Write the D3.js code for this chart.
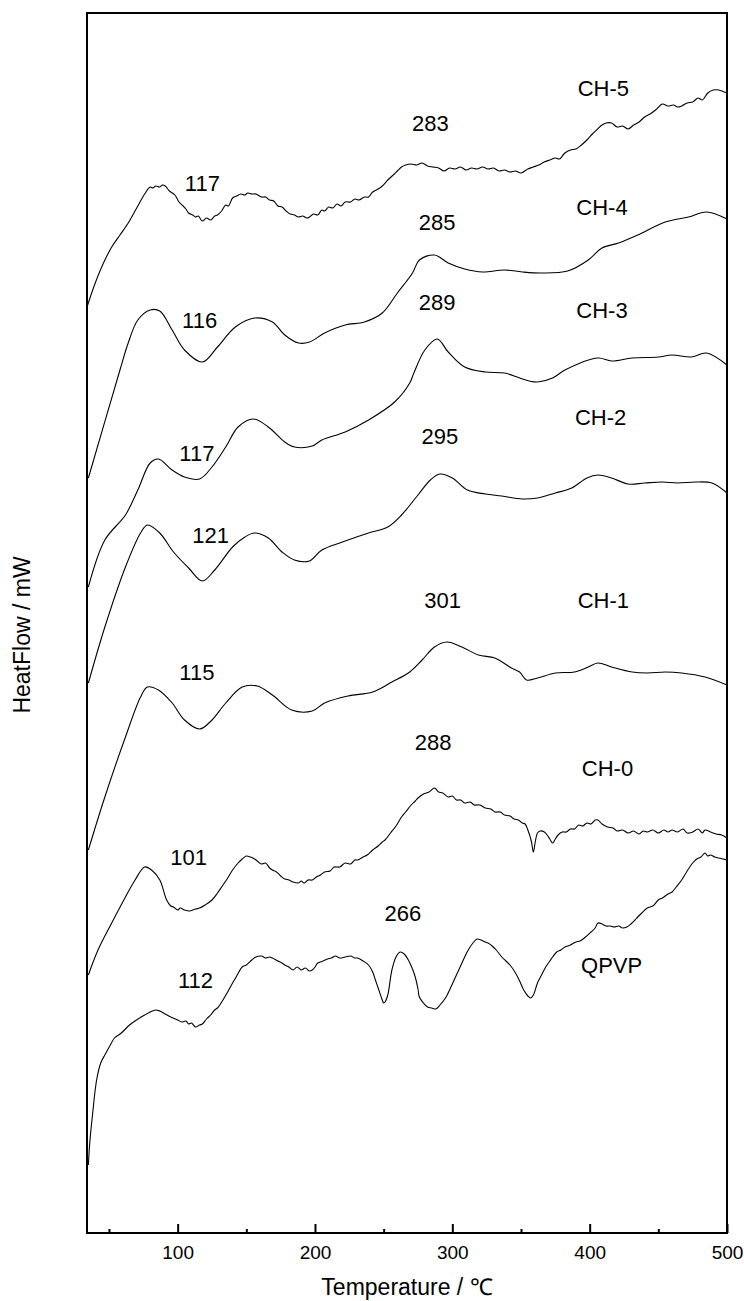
<!DOCTYPE html>
<html>
<head>
<meta charset="utf-8">
<script src="https://cdn.jsdelivr.net/npm/d3@7"></script>
<style>
    body { margin: 0; background: #fff; }
    #dsc-chart text { font-family: "Liberation Sans", Arial, sans-serif; fill: #000; }
</style>
</head>
<body>
<div id="dsc-chart"></div>
<script>
// DSC traces: [temperature in deg C, heat flow in arbitrary units (curves are stacked)]
var ch5 = [[34,926],[40,950],[46,970],[52,986],[58,998],[64,1010],[71,1027],[76,1039],[80,1046],[82,1045],
    [84,1047],[87,1046],[89,1048],[91,1047],[94,1042],[98,1038],[101,1031],[104,1027],[106,1024],[108,1020],
    [111,1018],[113,1016],[115,1017],[118,1012],[121,1015],[124,1013],[127,1017],[129,1018],[132,1022],
    [135,1028],[137,1027],[140,1035],[143,1037],[146,1039],[149,1038],[151,1040],[154,1039],[157,1039],
    [161,1036],[164,1036],[167,1033],[170,1032],[173,1027],[176,1026],[179,1022],[182,1019],[185,1018],
    [188,1016],[191,1017],[194,1015],[196,1016],[199,1019],[202,1018],[205,1023],[207,1022],[210,1026],
    [213,1025],[216,1029],[219,1027],[222,1031],[226,1031],[229,1034],[232,1033],[236,1036],[239,1036],
    [242,1041],[246,1044],[249,1047],[253,1053],[257,1058],[260,1062],[263,1066],[266,1068],[270,1069],
    [274,1068],[278,1070],[282,1067],[286,1066],[290,1065],[294,1062],[298,1065],[302,1064],[306,1066],
    [310,1063],[314,1065],[318,1064],[322,1066],[326,1064],[330,1065],[334,1062],[338,1063],[342,1061],
    [346,1062],[350,1060],[355,1064],[359,1066],[363,1068],[367,1071],[371,1073],[375,1075],[378,1074],
    [382,1080],[386,1083],[390,1084],[394,1088],[398,1093],[402,1099],[405,1103],[409,1108],[412,1110],
    [416,1110],[420,1106],[424,1107],[428,1104],[432,1108],[436,1111],[440,1116],[444,1119],[448,1123],
    [453,1129],[457,1127],[461,1128],[464,1126],[467,1127],[471,1130],[475,1131],[479,1135],[482,1133],
    [486,1140],[490,1143],[494,1143],[498,1141],[500,1140]];
var ch4 = [[35,755],[58,863],[64,890],[71,913],[80,923],[87,922],[96,903],[105,883],[118,871],[129,886],
    [142,906],[156,915],[169,911],[178,898],[188,890],[196,891],[207,900],[222,908],[236,911],[249,920],
    [260,940],[271,960],[276,973],[287,978],[297,970],[309,964],[322,961],[338,963],[351,961],[365,960],
    [384,962],[399,973],[409,985],[421,990],[435,998],[455,1011],[472,1016],[485,1021],[500,1014]];
var ch3 = [[35,646],[47,693],[62,718],[71,743],[80,770],[86,774],[96,763],[105,756],[116,754],[125,766],
    [135,786],[144,806],[155,814],[166,806],[178,791],[185,786],[198,787],[205,793],[222,801],[239,813],
    [258,831],[269,850],[272,860],[280,883],[289,894],[297,881],[309,866],[324,861],[338,860],[349,855],
    [356,852],[362,851],[373,855],[382,863],[406,875],[416,872],[431,875],[450,876],[460,878],[474,876],
    [485,880],[500,868]];
var ch2 = [[35,550],[47,606],[62,666],[73,700],[78,708],[87,700],[97,681],[108,665],[118,652],[127,663],
    [140,686],[149,696],[156,700],[166,695],[176,681],[185,673],[196,672],[205,683],[220,691],[239,700],
    [253,706],[263,718],[275,738],[284,753],[291,759],[300,755],[311,743],[324,739],[336,737],[351,734],
    [362,735],[375,740],[387,745],[398,755],[406,758],[416,755],[428,749],[440,750],[453,751],[464,750],
    [477,751],[489,750],[500,740]];
var ch1 = [[35,383],[47,436],[62,496],[73,536],[78,546],[86,543],[96,530],[105,513],[116,504],[125,513],
    [135,530],[147,546],[158,547],[169,538],[183,523],[198,522],[207,530],[224,537],[242,541],[256,551],
    [269,561],[278,573],[287,586],[296,591],[307,586],[319,578],[331,575],[343,565],[349,561],[354,553],
    [362,555],[375,560],[389,561],[399,566],[406,570],[416,566],[431,561],[442,560],[455,561],[467,560],
    [484,556],[500,548]];
var ch0 = [[35,258],[42,283],[52,310],[62,336],[69,353],[76,366],[81,363],[87,353],[92,333],[95,327],
    [97,326],[100,323],[102,325],[105,323],[109,322],[113,324],[116,325],[120,328],[125,333],[129,340],
    [132,346],[136,354],[140,363],[144,370],[147,374],[150,377],[153,376],[156,374],[158,372],[161,369],
    [164,370],[167,365],[169,363],[172,361],[175,357],[178,354],[181,353],[184,351],[188,350],[190,352],
    [192,350],[195,353],[198,353],[201,356],[204,358],[207,361],[211,362],[214,366],[218,366],[222,370],
    [226,369],[229,373],[231,373],[235,376],[238,378],[242,383],[246,387],[249,391],[251,393],[255,400],
    [259,407],[263,416],[266,421],[270,428],[273,432],[275,435],[279,439],[283,441],[287,445],[290,441],
    [293,440],[297,436],[300,437],[303,433],[306,433],[309,430],[313,431],[316,428],[320,428],[324,425],
    [328,424],[331,421],[335,421],[338,418],[342,417],[345,414],[348,413],[351,410],[353,409],[355,403],
    [357.5,392],[359,381],[360.5,392],[362,400],[364,402],[367,401],[369,398],[371,394],[373,390],[375,394],
    [377,398],[380,401],[383,401],[386,404],[389,404],[392,408],[395,407],[398,410],[401,409],[404,413],
    [406,413],[409,409],[413,406],[417,405],[420,402],[424,403],[428,400],[432,402],[436,399],[439,402],
    [442,401],[446,403],[450,400],[454,403],[457,401],[460,403],[464,401],[468,404],[471,400],[475,401],
    [479,404],[482,400],[484,403],[488,401],[492,399],[496,398],[500,395]];
var qpvp = [[35,68],[36,90],[38,118],[41,153],[44,170],[47,178],[51,188],[54,195],[59,200],[65,208],
    [70,213],[76,218],[80,221],[84,223],[87,222],[91,219],[95,216],[100,213],[103,211],[106,212],[108,209],
    [110,210],[113,206],[116,208],[118,209],[121,214],[124,218],[127,223],[129,225],[133,233],[136,240],
    [140,250],[143,257],[147,266],[150,268],[154,273],[157,276],[161,277],[164,275],[167,276],[169,275],
    [173,272],[176,270],[178,268],[181,266],[184,263],[187,266],[190,263],[193,265],[196,262],[198,263],
    [200,266],[202,270],[206,272],[209,274],[212,275],[215,277],[218,275],[222,276],[226,277],[229,275],
    [231,275],[235,272],[239,268],[242,261],[244,253],[246,245],[249,233],[250,230],[251,231],[253,238],
    [256,263],[259,276],[262,281],[265,279],[268,273],[271,264],[273,256],[275,244],[276,236],[279,230],
    [282,226],[285,225],[288,224],[291,228],[295,235],[299,246],[303,258],[306,267],[309,276],[312,284],
    [315,290],[318,294],[321,293],[324,291],[326,290],[329,287],[332,283],[336,276],[339,272],[342,268],
    [346,260],[349,252],[352,243],[355,237],[357,235],[359,238],[362,250],[365,258],[368,266],[371,272],
    [373,276],[376,281],[379,283],[382,286],[386,288],[390,291],[393,292],[397,296],[401,301],[404,305],
    [406,310],[409,309],[412,307],[415,307],[418,306],[421,307],[424,305],[427,306],[430,309],[433,313],
    [435,316],[438,320],[442,325],[446,327],[450,333],[453,335],[457,339],[460,341],[463,346],[467,353],
    [471,362],[475,370],[478,374],[481,376],[484,380],[486,377],[488,378],[491,376],[494,375],[497,374],
    [500,373]];

var seriesNames = ["CH-5", "CH-4", "CH-3", "CH-2", "CH-1", "CH-0", "QPVP"];
var seriesValues = [ch5, ch4, ch3, ch2, ch1, ch0, qpvp];

// sample names, anchored at [temperature, heat flow]
var nameT = [410, 409, 409, 408, 410, 413, 416];
var nameV = [1145, 1026, 923, 816, 633, 465, 268];

// peak temperatures written on the figure
var peakText = ["117", "283", "116", "285", "117", "289", "121", "295", "115", "301", "101", "288", "112", "266"];
var peakT = [118, 284, 116, 289, 114, 289, 124, 291, 114, 293, 108, 286, 113, 264];
var peakV = [1050, 1110, 913, 1011, 780, 931, 698, 797, 561, 633, 376, 491, 253, 320];

var majorTicks = [100, 200, 300, 400, 500];
var minorTicks = [50, 150, 250, 350, 450];

/**
 * Constructor for the DSC chart
 */
function DscChart() {
    var self = this;
    self.init();
};

/**
 * Builds the svg, scales, axes and curves
 */
DscChart.prototype.init = function () {
    var self = this;
    var divChart = d3.select("#dsc-chart");

    self.svgWidth = 744;
    self.svgHeight = 1301;
    self.plot = {left: 87, right: 727, top: 13, bottom: 1233};

    self.svg = divChart.append("svg")
        .attr("width", self.svgWidth)
        .attr("height", self.svgHeight);

    self.xScale = d3.scaleLinear()
        .domain([34, 500])
        .range([self.plot.left, self.plot.right]);
    self.yScale = d3.scaleLinear()
        .domain([0, 1220])
        .range([self.plot.bottom, self.plot.top]);

    // curves
    var line = d3.line()
        .x(function (d) { return self.xScale(d[0]); })
        .y(function (d) { return self.yScale(d[1]); })
        .curve(d3.curveCatmullRom.alpha(0.5));

    self.svg.append("g").attr("id", "curves")
        .selectAll("path")
        .data(seriesValues)
        .enter().append("path")
        .attr("d", line)
        .attr("fill", "none")
        .attr("stroke", "#000")
        .attr("stroke-width", 1.1);

    // frame
    self.svg.append("rect")
        .attr("x", self.plot.left)
        .attr("y", self.plot.top)
        .attr("width", self.plot.right - self.plot.left)
        .attr("height", self.plot.bottom - self.plot.top)
        .attr("fill", "none")
        .attr("stroke", "#000")
        .attr("stroke-width", 2);

    // x axis, ticks pointing into the plot
    var xAxis = d3.axisBottom(self.xScale)
        .tickValues(majorTicks)
        .tickSizeInner(-9)
        .tickSizeOuter(0)
        .tickPadding(13);
    var gx = self.svg.append("g").attr("id", "xAxis")
        .attr("transform", "translate(0," + self.plot.bottom + ")")
        .call(xAxis);
    gx.select(".domain").remove();
    gx.selectAll("line").attr("stroke-width", 2);
    gx.selectAll("text")
        .style("font-size", "19px");

    var xMinor = d3.axisBottom(self.xScale)
        .tickValues(minorTicks)
        .tickSizeInner(-4)
        .tickSizeOuter(0)
        .tickFormat("");
    var gm = self.svg.append("g").attr("id", "xMinor")
        .attr("transform", "translate(0," + self.plot.bottom + ")")
        .call(xMinor);
    gm.select(".domain").remove();
    gm.selectAll("line").attr("stroke-width", 2);

    // axis titles
    self.svg.append("text")
        .attr("x", (self.plot.left + self.plot.right) / 2)
        .attr("y", 1295)
        .attr("text-anchor", "middle")
        .style("font-size", "23px")
        .text("Temperature / \u2103");

    self.svg.append("text")
        .attr("transform", "translate(30," + 635 + ") rotate(-90)")
        .attr("text-anchor", "middle")
        .style("font-size", "23px")
        .text("HeatFlow / mW");

    // sample names
    self.svg.append("g").attr("id", "names")
        .selectAll("text")
        .data(seriesNames)
        .enter().append("text")
        .attr("x", function (d, i) { return self.xScale(nameT[i]); })
        .attr("y", function (d, i) { return self.yScale(nameV[i]); })
        .attr("dy", "0.36em")
        .attr("text-anchor", "middle")
        .style("font-size", "22px")
        .text(function (d) { return d; });

    // peak temperatures
    self.svg.append("g").attr("id", "peaks")
        .selectAll("text")
        .data(peakText)
        .enter().append("text")
        .attr("x", function (d, i) { return self.xScale(peakT[i]); })
        .attr("y", function (d, i) { return self.yScale(peakV[i]); })
        .attr("dy", "0.36em")
        .attr("text-anchor", "middle")
        .style("font-size", "22px")
        .text(function (d) { return d; });
};

new DscChart();
</script>
</body>
</html>
